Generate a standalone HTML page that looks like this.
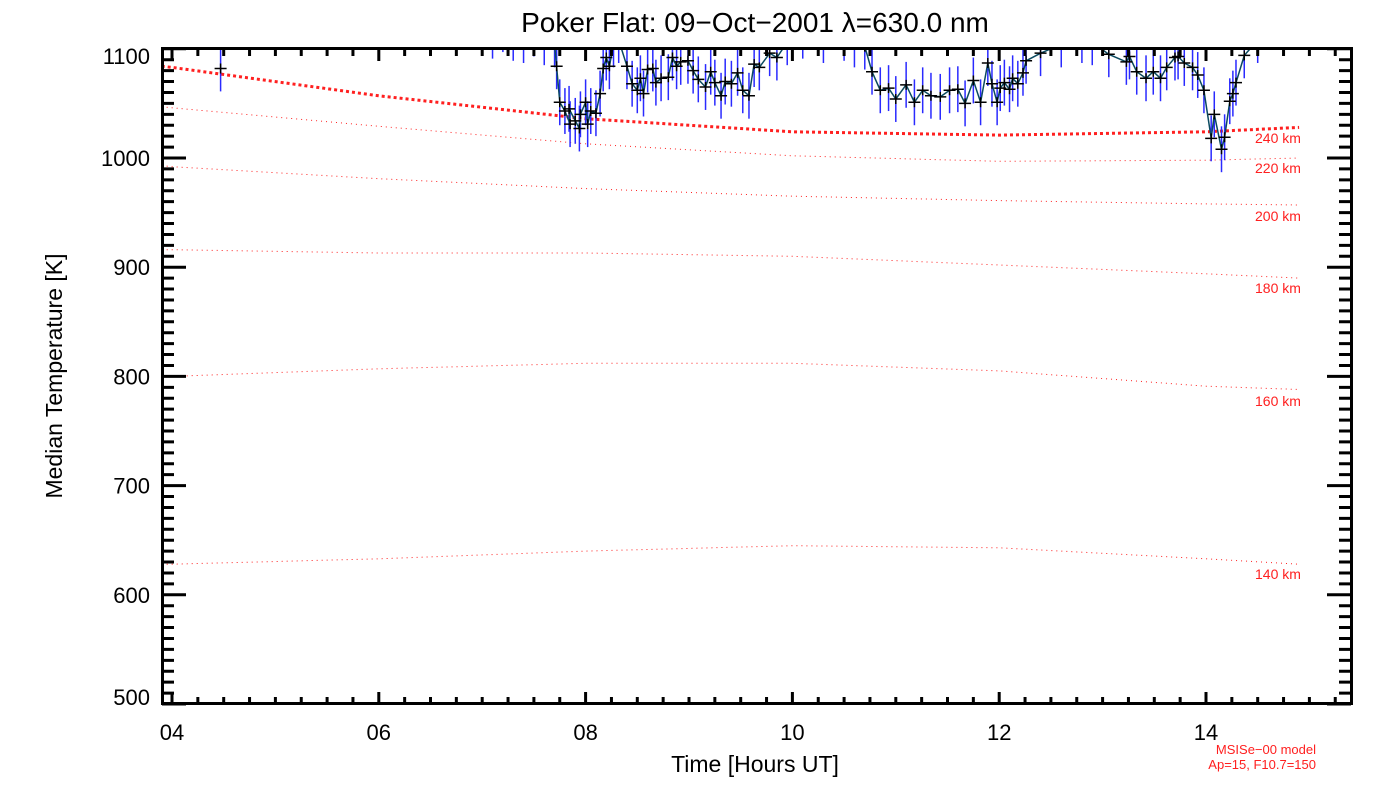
<!DOCTYPE html>
<html><head><meta charset="utf-8"><style>
html,body{margin:0;padding:0;background:#fff;}
svg{display:block;font-family:"Liberation Sans",sans-serif;}
</style></head><body>
<svg id="chart" width="1400" height="800" viewBox="0 0 1400 800" xmlns="http://www.w3.org/2000/svg">
<defs><clipPath id="plotclip"><rect x="163" y="49" width="1188" height="654"/></clipPath></defs>
<text x="755" y="32" font-size="28" text-anchor="middle">Poker Flat: 09−Oct−2001 λ=630.0 nm</text>
<text transform="translate(62,376) rotate(-90)" font-size="23" text-anchor="middle">Median Temperature [K]</text>
<text x="755" y="772" font-size="23" text-anchor="middle">Time [Hours UT]</text>
<text x="1316" y="754" font-size="13" fill="#ff2020" text-anchor="end">MSISe−00 model</text>
<text x="1316" y="769" font-size="13" fill="#ff2020" text-anchor="end">Ap=15, F10.7=150</text>
<g id="model" clip-path="url(#plotclip)"></g>
<g id="data" clip-path="url(#plotclip)"></g>
<g id="axes"></g>
</svg>
<script>
const xTicks = [4, 6, 8, 10, 12, 14];
const xTickLabels = ["04", "06", "08", "10", "12", "14"];
const yTicks = [500, 600, 700, 800, 900, 1000, 1100];
const yTickLabels = ["500", "600", "700", "800", "900", "1000", "1100"];

const modelHours = [3.9, 4, 6, 8, 10, 12, 14, 14.9];
const model240 = [1084, 1083, 1057, 1036, 1024, 1021, 1024, 1028];
const model220 = [1047, 1046, 1029, 1013, 1002, 997, 998, 1000];
const model200 = [993, 992, 981, 972, 965, 961, 958, 957];
const model180 = [916, 916, 913, 913, 910, 902, 894, 890];
const model160 = [800, 800, 807, 812, 812, 805, 791, 788];
const model140 = [628, 628, 633, 640, 645, 643, 633, 628];
const modelLabels = ["240 km", "220 km", "200 km", "180 km", "160 km", "140 km"];

const dataHours = [4.47,7.0,7.1,7.2,7.3,7.4,7.5,7.6,7.7,
 7.72,7.75,7.8,7.85,7.84,7.9,7.94,7.95,8.0,8.02,8.05,8.1,8.14,8.17,8.2,8.23,8.27,8.32,8.4,
 8.45,8.5,8.53,8.56,8.6,8.65,8.68,8.73,8.8,8.84,8.88,8.92,8.99,9.04,9.09,9.16,9.21,9.25,9.31,9.35,9.41,9.47,9.52,9.58,9.63,9.68,9.78,9.85,9.95,10.1,10.3,10.5,10.6,10.7,
 10.77,10.85,10.93,11.0,11.1,11.18,11.26,11.34,11.43,11.52,11.6,11.67,11.75,11.82,11.89,11.93,11.98,12.01,12.05,12.1,12.13,12.18,12.23,12.26,12.4,12.6,12.8,12.9,
 13.06,13.23,13.26,13.33,13.42,13.49,13.56,13.62,13.7,13.73,13.79,13.87,13.92,13.98,14.05,14.08,14.15,14.18,14.23,14.26,14.29,14.37,14.5];
const dataTemps = [1082,1115,1112,1118,1110,1108,1114,1106,1104,
 1084,1051,1043,1031,1045,1034,1027,1040,1051,1031,1043,1041,1059,1082,1092,1084,1104,1108,1084,
 1068,1062,1073,1059,1081,1082,1069,1073,1074,1092,1084,1088,1089,1080,1072,1065,1079,1069,1057,1070,1068,1078,1062,1057,1086,1083,1096,1092,1106,1112,1108,1110,1104,1102,
 1079,1062,1064,1054,1067,1051,1062,1057,1056,1062,1063,1050,1071,1051,1087,1068,1051,1064,1069,1063,1073,1068,1078,1089,1096,1104,1108,1106,
 1095,1088,1093,1079,1073,1079,1073,1083,1092,1093,1087,1083,1076,1062,1018,1040,1008,1019,1052,1059,1069,1094,1108];
const errHalf = 21;

const X0 = 172, PXH = 103.4, Y0 = 704, PXK = 1.092;
function xs(h){ return X0 + (h - 4) * PXH; }
function ys(t){ return Y0 - (t - 500) * PXK; }
const NS = "http://www.w3.org/2000/svg";
function mk(tag, parent, attrs){ const e = document.createElementNS(NS, tag); for (const k in attrs) e.setAttribute(k, attrs[k]); parent.appendChild(e); return e; }

const mg = document.getElementById('model');
const curves = [model240, model220, model200, model180, model160, model140];
curves.forEach((c, i) => {
  const d = c.map((t, j) => (j ? 'L' : 'M') + xs(modelHours[j]).toFixed(1) + ' ' + ys(t).toFixed(1)).join(' ');
  const p = mk('path', mg, {d: d, fill: 'none', stroke: '#ff2020', 'stroke-width': i === 0 ? 3 : 1, 'stroke-dasharray': i === 0 ? '3 3' : '1 4'});
  
  
});
const svg = document.getElementById('chart');
const labelY = [143, 173, 221, 293, 406, 579];
modelLabels.forEach((l, i) => {
  const t = mk('text', svg, {x: 1255, y: labelY[i], 'font-size': 14, fill: '#ff2020'});
  t.textContent = l;
  
  
});

const dg = document.getElementById('data');
dataHours.forEach((h, i) => {
  const x = xs(h), y = ys(dataTemps[i]);
  const b = mk('line', dg, {x1: x, x2: x, y1: y - errHalf * PXK, y2: y + errHalf * PXK, stroke: '#2a2aff', 'stroke-width': 1.5});
  
  
});
const ld = dataHours.slice(1).map((h, i) => (i ? 'L' : 'M') + xs(h).toFixed(1) + ' ' + ys(dataTemps[i + 1]).toFixed(1)).join(' ');
const line = mk('path', dg, {d: ld, fill: 'none', stroke: '#0b4a60', 'stroke-width': 1.5});


dataHours.forEach((h, i) => {
  const x = xs(h), y = ys(dataTemps[i]);
  const m = mk('path', dg, {d: `M${x-6} ${y}H${x+6}M${x} ${y-5}V${y+5}`, stroke: '#000', 'stroke-width': 1.5});
  
  
});

const ag = document.getElementById('axes');
const frame = mk('rect', ag, {x: 162.5, y: 48.5, width: 1189, height: 655, fill: 'none', stroke: '#000', 'stroke-width': 3});


let tp = '';
for (let q = 0; q <= 45; q++) {
  const h = 4 + q * 0.25; const x = xs(h);
  if (x > 1350) break;
  const L = (q % 8 === 0) ? 12 : 7;
  tp += `M${x} ${Y0}V${Y0 - L}M${x} 49V${49 + L}`;
}
for (let t = 500; t <= 1100; t += 10) {
  const y = ys(t); const L = (t % 100 === 0) ? 24 : 12;
  tp += `M162 ${y}H${162 + L}M1351 ${y}H${1351 - L}`;
}
const ticks = mk('path', ag, {d: tp, stroke: '#000', 'stroke-width': 3, fill: 'none'});


xTicks.forEach((h, i) => {
  const t = mk('text', ag, {x: xs(h), y: 740, 'font-size': 22, 'text-anchor': 'middle'});
  t.textContent = xTickLabels[i];
  
  
});
yTicks.forEach((v, i) => {
  let yy = ys(v) + 8;
  if (v === 1100) yy += 7;
  if (v === 500) yy -= 7;
  const t = mk('text', ag, {x: 150, y: yy, 'font-size': 22, 'text-anchor': 'end'});
  t.textContent = yTickLabels[i];
  
  
});
</script>
</body></html>
